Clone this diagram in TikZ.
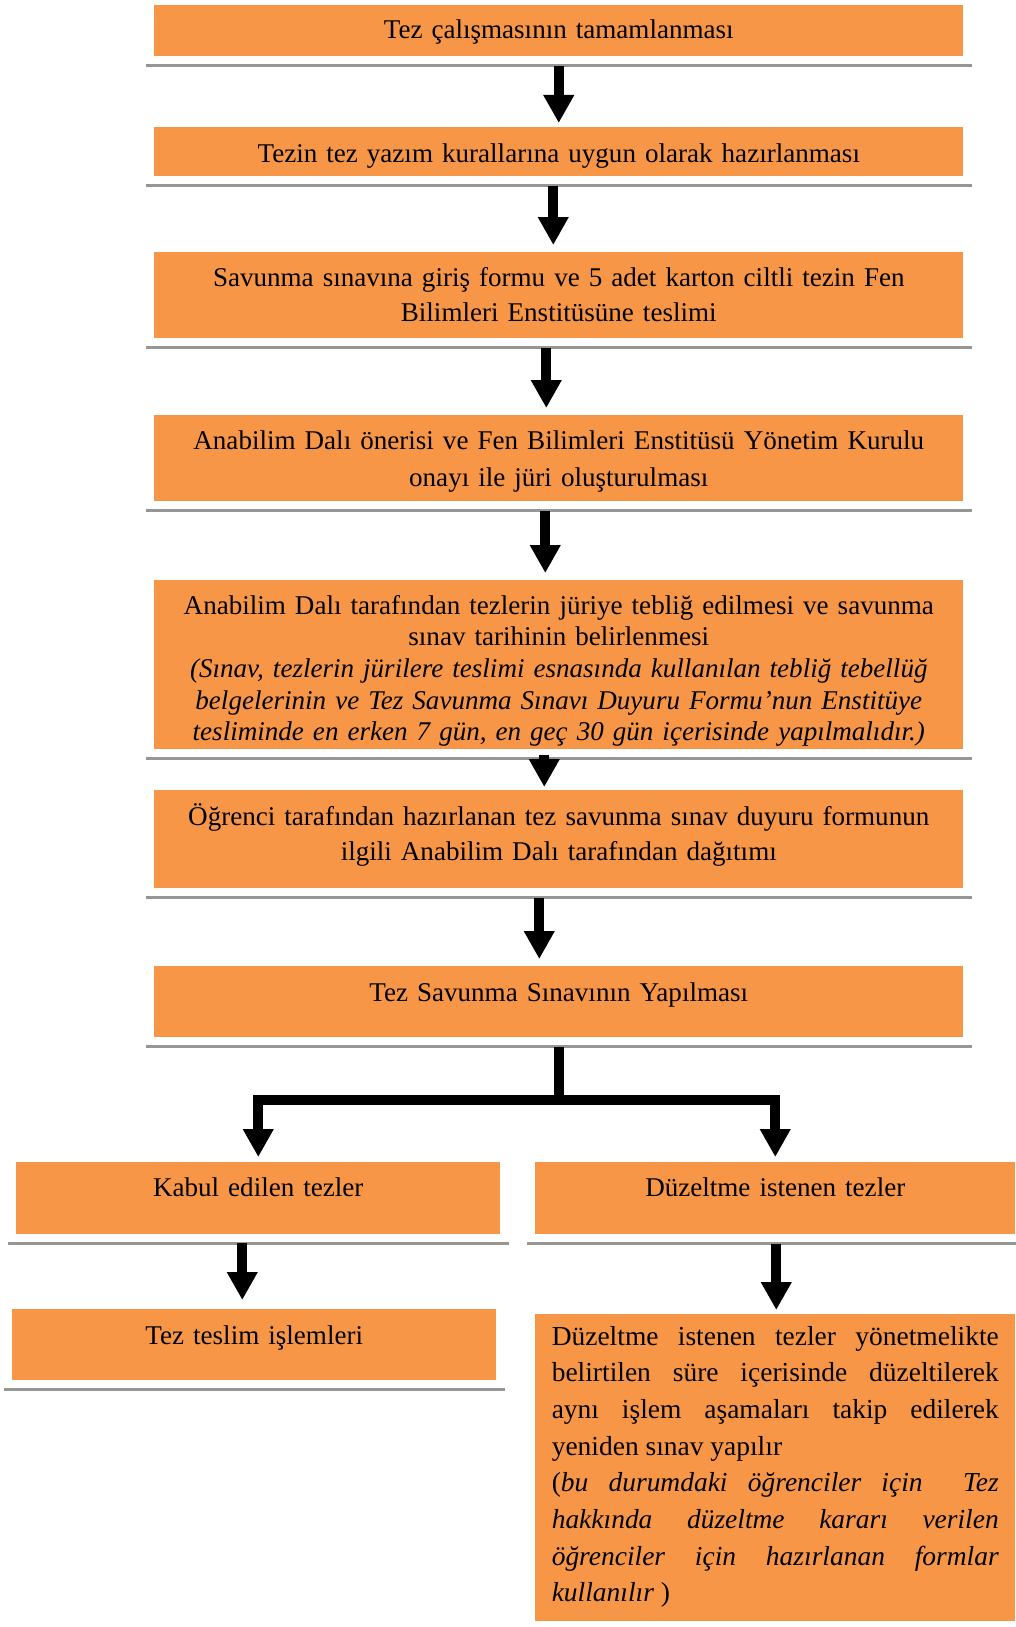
\documentclass[tikz,border=0pt]{standalone}
\usepackage{fontspec}
\setmainfont{Liberation Serif}
\usetikzlibrary{calc}
\usetikzlibrary{arrows.meta}

\definecolor{boxorange}{RGB}{247,150,70}
\definecolor{shadowgray}{RGB}{150,150,150}

\tikzset{
  stepbox/.style={fill=boxorange, inner sep=0pt, align=center, anchor=north west},
  flowarrow/.style={line width=7.5pt, line join=miter, -{Triangle[width=21.75pt,length=21pt]}},
  shadowline/.style={draw=shadowgray, line width=2.25pt},
}

\begin{document}
\begin{tikzpicture}[x=0.75pt, y=-0.75pt, font=\fontsize{20.3}{26.5}\selectfont]
\useasboundingbox (0, 0) rectangle (1015, 1627);

\node (b1) [stepbox, text width=606.75pt, minimum height=38.25pt, text height=24.75pt, text depth=13.5pt] at (154, 5)
  {Tez çalışmasının tamamlanması};
\node (b2) [stepbox, text width=606.75pt, minimum height=36.75pt, text height=26.25pt, text depth=10.5pt] at (154, 127)
  {Tezin tez yazım kurallarına uygun olarak hazırlanması};
\node (b3) [stepbox, text width=606.75pt, minimum height=64.5pt, text height=25.5pt, text depth=39pt] at (154, 252)
  {Savunma sınavına giriş formu ve 5 adet karton ciltli tezin Fen\\ Bilimleri Enstitüsüne teslimi};
\node (b4) [stepbox, text width=606.75pt, minimum height=64.5pt, text height=25.5pt, text depth=39pt,
  font=\fontsize{20.3}{28}\selectfont] at (154, 415)
  {Anabilim Dalı önerisi ve Fen Bilimleri Enstitüsü Yönetim Kurulu\\ onayı ile jüri oluşturulması};
\node (b5) [stepbox, text width=606.75pt, minimum height=126.75pt, text height=25.5pt, text depth=101.25pt,
  font=\fontsize{20.3}{23.7}\selectfont] at (154, 580)
  {Anabilim Dalı tarafından tezlerin jüriye tebliğ edilmesi ve savunma\\ sınav tarihinin belirlenmesi\\
   {\itshape (Sınav, tezlerin jürilere teslimi esnasında kullanılan tebliğ tebellüğ\\
   belgelerinin ve Tez Savunma Sınavı Duyuru Formu’nun Enstitüye\\
   tesliminde en erken 7 gün, en geç 30 gün içerisinde yapılmalıdır.)}};
\node (b6) [stepbox, text width=606.75pt, minimum height=73.5pt, text height=26.25pt, text depth=47.25pt] at (154, 790)
  {Öğrenci tarafından hazırlanan tez savunma sınav duyuru formunun\\ ilgili Anabilim Dalı tarafından dağıtımı};
\node (b7) [stepbox, text width=606.75pt, minimum height=53.25pt, text height=26.25pt, text depth=27pt] at (154, 966)
  {Tez Savunma Sınavının Yapılması};

\node (b8) [stepbox, text width=363pt, minimum height=54pt, text height=25.5pt, text depth=28.5pt] at (16, 1162)
  {Kabul edilen tezler};
\node (b9) [stepbox, text width=360pt, minimum height=54pt, text height=25.5pt, text depth=28.5pt] at (535, 1162)
  {Düzeltme istenen tezler};
\node (b10) [stepbox, text width=363pt, minimum height=53.25pt, text height=26.25pt, text depth=27pt] at (12, 1309)
  {Tez teslim işlemleri};
\node (b11) [stepbox, align=justify, text width=335.25pt, minimum width=360pt, minimum height=230.25pt,
  text height=23.25pt, text depth=207pt, font=\fontsize{20.6}{27.5}\selectfont] at (535, 1314)
  {\sloppy Düzeltme istenen tezler yönetmelikte\linebreak belirtilen süre içerisinde düzeltilerek\linebreak
   aynı işlem aşamaları takip edilerek\linebreak yeniden sınav yapılır\par
   (\textit{bu durumdaki öğrenciler için \ Tez\linebreak hakkında düzeltme kararı verilen\linebreak
   öğrenciler için hazırlanan formlar\linebreak kullanılır} )};

\foreach \b in {b1,b2,b3,b4,b5,b6,b7,b8,b9,b10}
  \draw [shadowline] ($(\b.south west)+(-8,9)$) -- ($(\b.south east)+(8,9)$);

\draw [flowarrow] ($(b1.south)+(0,9)$) -- ($(b2.north)+(0,-4)$);
\draw [flowarrow] ($(b2.south)+(-5.5,9)$) -- ($(b3.north)+(-5.5,-7)$);
\draw [flowarrow] ($(b3.south)+(-12.5,9)$) -- ($(b4.north)+(-12.5,-7)$);
\draw [flowarrow] ($(b4.south)+(-13.5,9)$) -- ($(b5.north)+(-13.5,-7)$);
\draw [flowarrow] ($(b5.south)+(-14.5,5)$) -- ($(b6.north)+(-14.5,-3)$);
\draw [flowarrow] ($(b6.south)+(-19.5,9)$) -- ($(b7.north)+(-19.5,-7)$);

\coordinate (fork) at ($(b7.south)+(0,62)$);
\draw [line width=7.5pt] ($(b7.south)+(0,9)$) -- (fork);
\draw [flowarrow] (fork) -| ($(b8.north)+(0,-5)$);
\draw [flowarrow] (fork) -| ($(b9.north)+(0,-5)$);
%\draw [flowarrow] ($(b7.south)+(0,9)$) -- (fork);

\draw [flowarrow] ($(b8.south)+(-16,8)$) -- ($(b10.north)+(-12,-9)$);
\draw [flowarrow] ($(b9.south)+(1,9)$) -- ($(b11.north)+(1,-4)$);
\end{tikzpicture}
\end{document}
